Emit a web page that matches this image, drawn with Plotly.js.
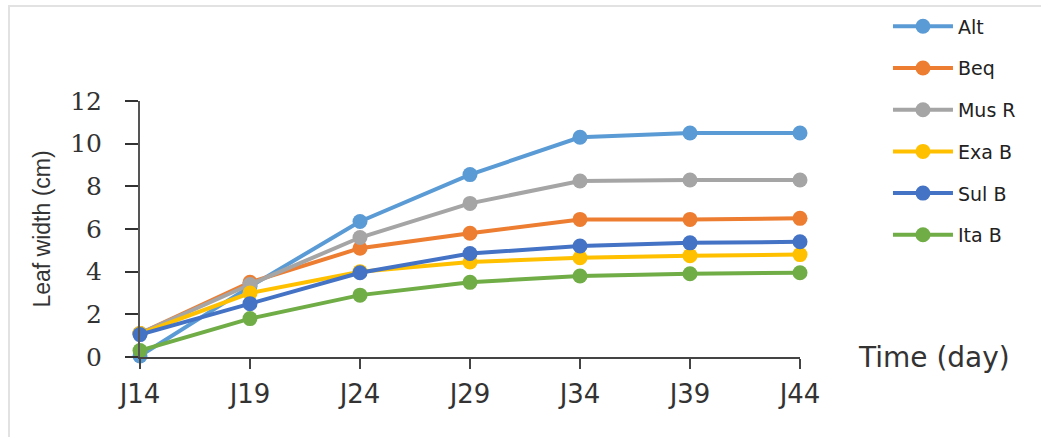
<!DOCTYPE html>
<html>
<head>
<meta charset="utf-8">
<script src="https://cdn.plot.ly/plotly-3.0.1.min.js"></script>
<style>
  html, body { margin: 0; padding: 0; background: #fff; }
  #chart { width: 1041px; height: 437px; }
  #frame { position: absolute; left: 8px; top: 5px; width: 1031px; height: 440px;
           border-left: 2px solid #e2e2e2; border-top: 2px solid #e2e2e2; border-right: 2px solid #e8e8e8;
           pointer-events: none; }
</style>
</head>
<body>
<div id="chart"></div>
<div id="frame"></div>
<script>
const days = ["J14", "J19", "J24", "J29", "J34", "J39", "J44"];
const seriesNames = ["Alt", "Beq", "Mus R", "Exa B", "Sul B", "Ita B"];
const alt  = [0.05, 3.3, 6.35, 8.55, 10.3, 10.5, 10.5];
const beq  = [1.1, 3.5, 5.1, 5.8, 6.45, 6.45, 6.5];
const musR = [1.1, 3.4, 5.6, 7.2, 8.25, 8.3, 8.3];
const exaB = [1.1, 3.0, 4.0, 4.45, 4.65, 4.75, 4.8];
const sulB = [1.05, 2.5, 3.95, 4.85, 5.2, 5.35, 5.4];
const itaB = [0.3, 1.8, 2.9, 3.5, 3.8, 3.9, 3.95];
const seriesValues = [alt, beq, musR, exaB, sulB, itaB];
const colors = ["#5B9BD5", "#ED7D31", "#A5A5A5", "#FFC000", "#4472C4", "#70AD47"];

const traces = seriesNames.map((name, i) => ({
  type: "scatter",
  mode: "lines+markers",
  name: name,
  legendgroup: "g" + i,
  x: days,
  y: seriesValues[i],
  line: { color: colors[i], width: 4 },
  marker: { color: colors[i], size: 15 },
  cliponaxis: false
}));

const layout = {
  width: 1041,
  height: 437,
  margin: { l: 140, r: 241, t: 101, b: 80 },
  paper_bgcolor: "#ffffff",
  plot_bgcolor: "#ffffff",
  showlegend: true,
  legend: {
    x: 0.853, xref: "container", xanchor: "left",
    y: 0.983, yref: "container", yanchor: "top",
    font: { family: "DejaVu Sans, sans-serif", size: 19, color: "#222" },
    tracegroupgap: 14,
    itemwidth: 60,
    maxheight: 420
  },
  xaxis: {
    type: "category",
    categoryorder: "array",
    categoryarray: days,
    range: [0, 6],
    showgrid: false,
    zeroline: false,
    showline: true,
    linecolor: "#444",
    linewidth: 2,
    ticks: "outside",
    ticklen: 10,
    tickwidth: 2,
    tickcolor: "#444",
    tickfont: { family: "DejaVu Sans, sans-serif", size: 26, color: "#333" },
    ticklabelstandoff: 3
  },
  yaxis: {
    range: [0, 12],
    tickvals: [0, 2, 4, 6, 8, 10, 12],
    showgrid: false,
    zeroline: false,
    showline: true,
    linecolor: "#555",
    linewidth: 2,
    ticks: "outside",
    ticklen: 13,
    tickwidth: 2,
    tickcolor: "#333",
    tickfont: { family: "DejaVu Serif", size: 25, color: "#333" },
    ticklabelstandoff: 18,
    title: {
      text: "Leaf width (cm)",
      font: { family: "'Liberation Sans', Arial, sans-serif", size: 23, color: "#333" },
      standoff: 13
    }
  },
  annotations: [{
    text: "Time (day)",
    xref: "paper", yref: "paper",
    x: 1.085, y: 0.0, xanchor: "left", yanchor: "middle",
    showarrow: false,
    font: { family: "DejaVu Sans, sans-serif", size: 28, color: "#333" }
  }]
};

Plotly.newPlot("chart", traces, layout, { displayModeBar: false, staticPlot: true });
</script>
</body>
</html>
